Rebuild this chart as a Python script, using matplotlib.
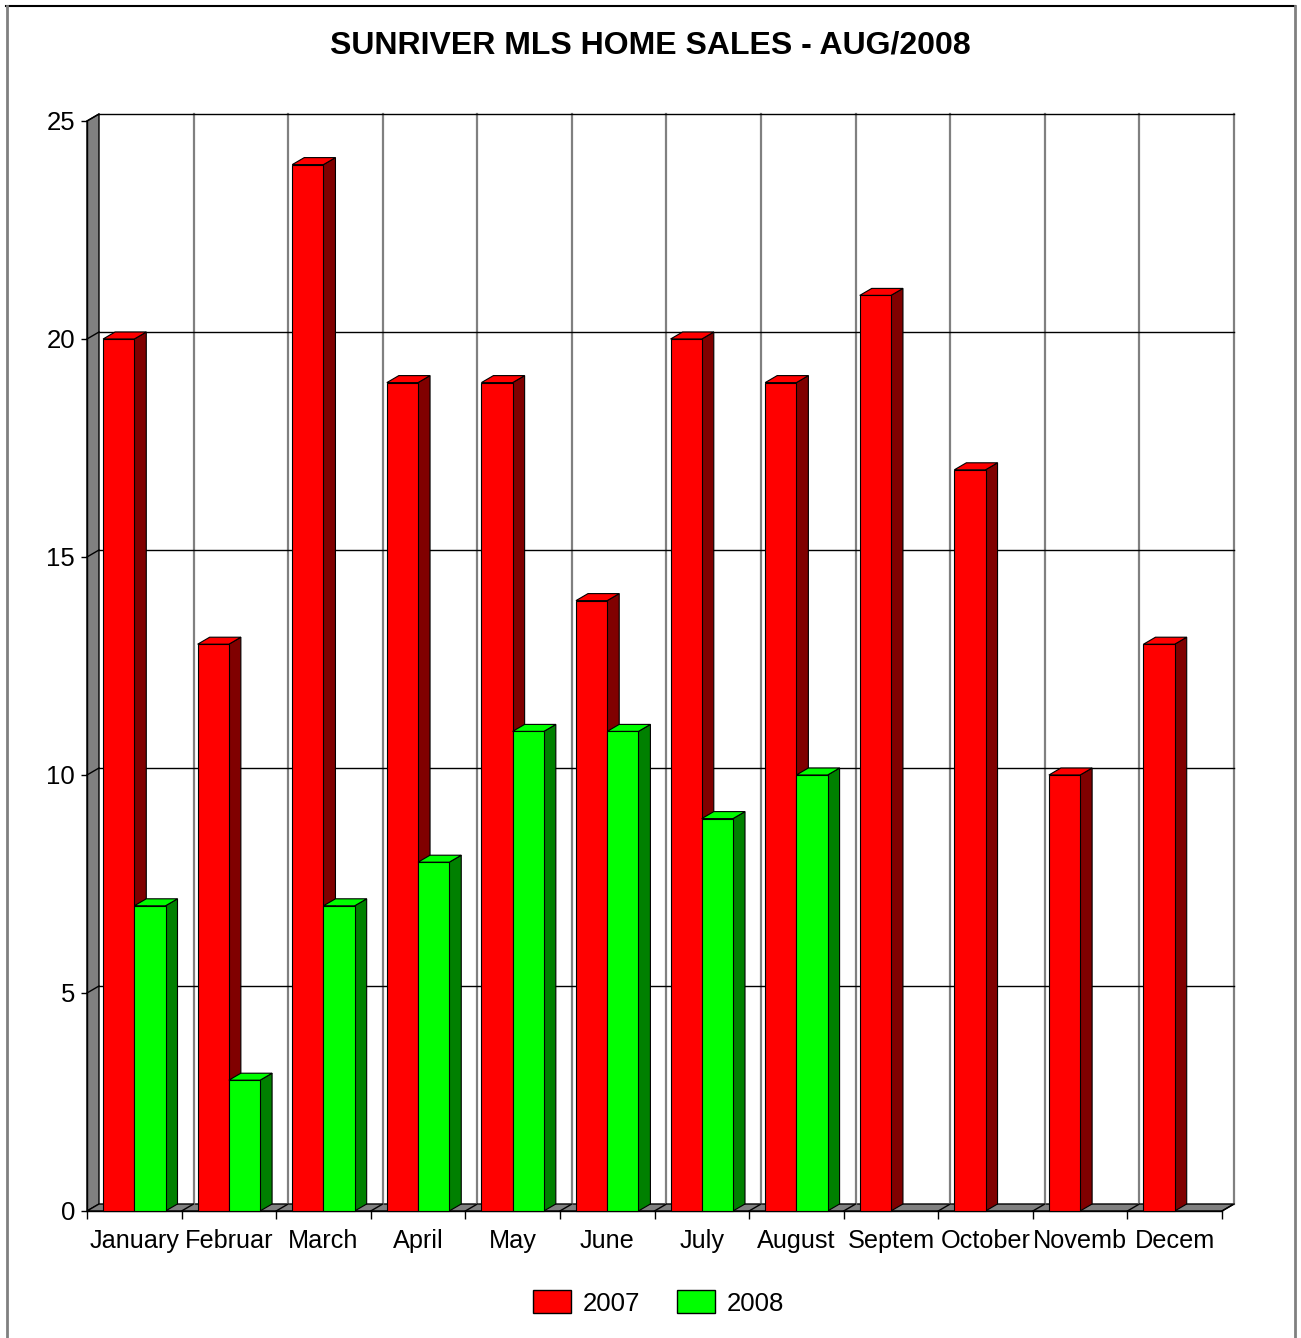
import matplotlib
matplotlib.use("Agg")
import matplotlib.pyplot as plt
from matplotlib.patches import Polygon, Rectangle, Patch
from matplotlib.lines import Line2D

plt.rcParams['font.family'] = ['Liberation Sans', 'DejaVu Sans']

# data
months = ["January", "Februar", "March", "April", "May", "June",
          "July", "August", "Septem", "October", "Novemb", "Decem"]
sales_2007 = [20, 13, 24, 19, 19, 14, 20, 19, 21, 17, 10, 13]
sales_2008 = [7, 3, 7, 8, 11, 11, 9, 10]
series_names = ["2007", "2008"]

W, H = 1301, 1338
fig = plt.figure(figsize=(W / 100, H / 100), dpi=100)
fig.patch.set_facecolor("white")

# front axis box in pixels
x_left, x_right, y_zero, y_top = 87, 1222, 1211, 121
ax = fig.add_axes([x_left / W, 1 - y_zero / H, (x_right - x_left) / W, (y_zero - y_top) / H])
n = len(months)
ymax = 25
ax.set_xlim(0, n)
ax.set_ylim(0, ymax)
ax.patch.set_visible(False)

# 3d depth offset in data units
dx = 12 / ((x_right - x_left) / n)
dy = 7 / ((y_zero - y_top) / ymax)

gray = "#808080"

# back wall
ax.add_patch(Rectangle((dx, dy), n, ymax, facecolor="white", edgecolor="none", zorder=0, clip_on=False))
# side wall
ax.add_patch(Polygon([(0, 0), (dx, dy), (dx, ymax + dy), (0, ymax)], closed=True,
                     facecolor=gray, edgecolor="black", lw=1, zorder=1, clip_on=False))
# floor
ax.add_patch(Polygon([(0, 0), (n, 0), (n + dx, dy), (dx, dy)], closed=True,
                     facecolor=gray, edgecolor="black", lw=1, zorder=1, clip_on=False))

# horizontal gridlines (back wall + side wall)
for v in range(5, ymax + 1, 5):
    ax.plot([dx, n + dx], [v + dy, v + dy], color="black", lw=1, zorder=1.5, clip_on=False)
    ax.plot([0, dx], [v, v + dy], color="black", lw=1, zorder=1.5, clip_on=False)

# vertical gridlines on back wall, diagonals on floor
for k in range(1, n + 1):
    ax.plot([k + dx, k + dx], [dy, ymax + dy], color=gray, lw=1.6, zorder=1.2, clip_on=False)
    ax.plot([k, k + dx], [0, dy], color="black", lw=1, zorder=1.5, clip_on=False)

# bars
bar_w = 0.33
offset = 0.17
faces = [("#FF0000", "#800000"), ("#00FF00", "#008000")]
all_series = [sales_2007, sales_2008]
for i in range(n):
    for s, vals in enumerate(all_series):
        if i >= len(vals):
            continue
        v = vals[i]
        front, side = faces[s]
        x0 = i + offset + s * bar_w
        x1 = x0 + bar_w
        z = 3 + i * 0.01 + s * 0.001
        ax.add_patch(Polygon([(x1, 0), (x1 + dx, dy), (x1 + dx, v + dy), (x1, v)], closed=True,
                             facecolor=side, edgecolor="black", lw=0.8, zorder=z, clip_on=False))
        ax.add_patch(Polygon([(x0, v), (x0 + dx, v + dy), (x1 + dx, v + dy), (x1, v)], closed=True,
                             facecolor=front, edgecolor="black", lw=0.8, zorder=z, clip_on=False))
        ax.add_patch(Rectangle((x0, 0), bar_w, v, facecolor=front, edgecolor="black",
                               lw=0.8, zorder=z, clip_on=False))

# axes
for sp in ["top", "right"]:
    ax.spines[sp].set_visible(False)
for sp in ["left", "bottom"]:
    ax.spines[sp].set_color("black")
    ax.spines[sp].set_linewidth(1)
    ax.spines[sp].set_zorder(2)

ax.set_yticks(range(0, ymax + 1, 5))
ax.tick_params(axis="y", direction="out", length=4.5, width=1, pad=4, labelsize=18.5)
ax.set_xticks(range(0, n + 1))
ax.set_xticklabels([])
ax.tick_params(axis="x", which="major", direction="out", length=6, width=1)
ax.set_xticks([i + 0.5 for i in range(n)], minor=True)
ax.set_xticklabels(months, minor=True, fontsize=18.2)
ax.tick_params(axis="x", which="minor", length=0, pad=13)

fig.text(0.5, 1 - 45 / H, "SUNRIVER MLS HOME SALES - AUG/2008", ha="center", va="center",
         fontsize=23, fontweight="bold")

handles = [Patch(facecolor=faces[s][0], edgecolor="black", lw=1, label=series_names[s]) for s in range(2)]
fig.legend(handles=handles, loc="center", bbox_to_anchor=(658.5 / W, 1 - 1303 / H), ncol=2, frameon=False,
           fontsize=18.5, handlelength=1.48, handleheight=1.0, handletextpad=0.47, columnspacing=1.44)

# outer chart border
fig.add_artist(Line2D([6 / W, 1295 / W], [1 - 6 / H, 1 - 6 / H], color="black", lw=1.5))
fig.add_artist(Line2D([7 / W, 7 / W], [0, 1 - 6 / H], color=gray, lw=2))
fig.add_artist(Line2D([1295 / W, 1295 / W], [0, 1 - 6 / H], color=gray, lw=2))

fig.savefig("out.png", dpi=100)
